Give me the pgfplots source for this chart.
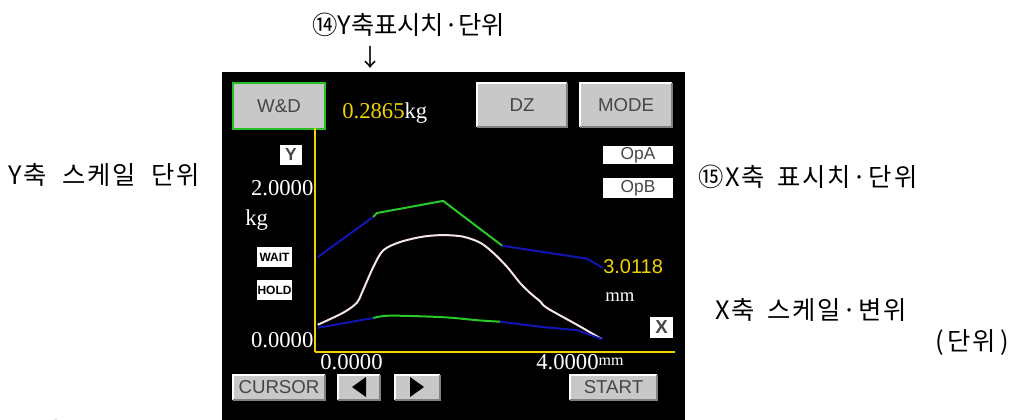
\documentclass[border=0pt]{standalone}
\usepackage{pgfplots}
\pgfplotsset{compat=1.18}
\usepackage{fontspec}
\setmainfont{Liberation Sans}
\newfontfamily\kr[LetterSpace=7]{Noto Sans CJK KR}
\newfontfamily\krn{Noto Sans CJK KR}
\newfontfamily\ser{Liberation Serif}
\definecolor{btn}{RGB}{200,200,200}
\definecolor{btntxt}{RGB}{70,70,70}
\definecolor{ylw}{RGB}{240,210,0}
\definecolor{dblue}{RGB}{20,20,180}
\definecolor{lgreen}{RGB}{40,200,40}
\definecolor{wht}{RGB}{245,228,235}
\definecolor{bgreen}{RGB}{40,190,40}
\newcommand\btn[5]{%
  \fill[btn] (#1,#2) rectangle (#3,#4);
  \draw[white,line width=1.2pt] (#1,#4) -- (#1,#2) -- (#3,#2);
  \draw[gray,line width=1.2pt] (#3,#2) -- (#3,#4) -- (#1,#4);
  \node[text=btntxt,font=\fontsize{14}{14}\selectfont] at ({(#1+#3)/2},{(#2+#4)/2}) {#5};}
\newcommand\wbox[6]{%
  \fill[white] (#1,#2) rectangle (#3,#4);
  \node[text=#6,inner sep=0pt] at ({(#1+#3)/2},{(#2+#4)/2}) {#5};}
\begin{document}
\begin{tikzpicture}
\begin{scope}[x=0.75pt,y=-0.75pt]
\useasboundingbox (0,0) rectangle (1021,420);
\fill[white] (0,0) rectangle (1021,420);
\fill[black] (222,72) rectangle (685,420);
% buttons
\fill[btn] (233,83) rectangle (325,129);
\draw[bgreen,line width=1.5pt] (233,83) rectangle (325,129);
\node[text=btntxt,font=\fontsize{14}{14}\selectfont] at (279,106) {W\&D};
\btn{477}{83}{567}{127}{DZ}
\btn{580}{83}{672}{127}{MODE}
\btn{233}{375}{325}{400}{CURSOR}
\btn{338}{375}{380}{400}{}
\btn{395}{375}{440}{400}{}
\btn{570}{375}{657}{400}{START}
\fill[black] (352,387) -- (366,377) -- (366,397) -- cycle;
\fill[black] (424,387) -- (410,377) -- (410,397) -- cycle;
% small boxes
\wbox{280}{145}{302}{165}{\bfseries\fontsize{13}{13}\selectfont Y}{btntxt}
\wbox{650}{317}{673}{338}{\bfseries\fontsize{14}{14}\selectfont X}{btntxt}
\wbox{603}{146}{673}{164}{\fontsize{13}{13}\selectfont OpA}{btntxt}
\wbox{603}{178}{673}{198}{\fontsize{13}{13}\selectfont OpB}{btntxt}
\wbox{257}{247}{292}{267}{\bfseries\fontsize{9}{9}\selectfont WAIT}{black}
\wbox{257}{280}{292}{300}{\bfseries\fontsize{9}{9}\selectfont HOLD}{black}
% panel texts
\node[anchor=west,inner sep=0pt,font=\ser\fontsize{17}{17}\selectfont] at (342,113) {\textcolor{ylw}{0.2865}\textcolor{white}{kg}};
\node[anchor=west,inner sep=0pt,text=white,font=\ser\fontsize{17}{17}\selectfont] at (245,220) {kg};
\node[anchor=west,inner sep=0pt,text=ylw,font=\fontsize{15}{15}\selectfont] at (603,267) {3.0118};
\node[anchor=west,inner sep=0pt,text=white,font=\ser\fontsize{14}{14}\selectfont] at (605,297) {mm};
\node[anchor=west,inner sep=0pt,text=white,font=\ser\fontsize{17}{17}\selectfont] at (320,362) {0.0000};
\node[anchor=west,inner sep=0pt,text=white,font=\ser\fontsize{17}{17}\selectfont] at (536,362) {4.0000\raisebox{3pt}{\fontsize{12}{12}\selectfont mm}};
% annotations
\node[anchor=west,inner sep=0pt,font=\krn\fontsize{19}{19}\selectfont] at (312,25) {⑭Y축표시치·단위};
\node[inner sep=0pt,font=\krn\fontsize{18}{18}\selectfont] at (370,57) {↓};
\node[anchor=west,inner sep=0pt,font=\kr\fontsize{19}{19}\selectfont] at (8,175) {Y축\hspace{6pt} 스케일\hspace{6pt} 단위};
\node[anchor=west,inner sep=0pt,font=\kr\fontsize{19}{19}\selectfont] at (698,177) {⑮X축\hspace{4pt} 표시치·단위};
\node[anchor=west,inner sep=0pt,font=\kr\fontsize{19}{19}\selectfont] at (715,310) {X축\hspace{4pt} 스케일·변위};
\node[anchor=west,inner sep=0pt,font=\kr\fontsize{19}{19}\selectfont] at (935,343) {(\hspace{3pt}단위\hspace{3pt})};
\node[anchor=west,inner sep=0pt,font=\kr\fontsize{19}{19}\selectfont] at (23,432) {파형 표시};
\end{scope}
\begin{axis}[at={(236.25pt,-264pt)}, anchor=south west, scale only axis,
  width=270pt, height=168pt,
  xmin=-0.028, xmax=5.025, ymin=-0.158, ymax=2.789,
  axis x line=bottom, axis y line=left,
  axis line style={-,ylw,line width=1.5pt},
  xtick=\empty, ytick={0,2}, yticklabels={0.0000,2.0000},
  major tick length=0pt,
  yticklabel style={text=white,font=\ser\fontsize{17}{17}\selectfont,inner sep=1pt},
  clip=false]
\addplot[dblue, line width=1.5pt] coordinates {(0.01,1.09)(0.79,1.62)};
\addplot[lgreen, line width=1.5pt] coordinates {(0.79,1.62)(0.84,1.67)(1.77,1.83)(2.60,1.24)};
\addplot[dblue, line width=1.5pt] coordinates {(2.60,1.24)(3.79,1.07)(4.01,0.95)};
\addplot[wht, line width=1.5pt, smooth] coordinates {
(0.01,0.20)(0.37,0.36)(0.56,0.49)(0.63,0.62)(0.79,0.96)(0.93,1.18)(1.17,1.29)(1.49,1.36)(1.77,1.38)(2.05,1.36)(2.29,1.28)(2.47,1.15)(2.67,0.96)(2.85,0.75)(2.99,0.62)(3.13,0.51)(3.23,0.42)(3.65,0.20)(4.00,0.01)};
\addplot[dblue, line width=1.5pt] coordinates {(0.01,0.16)(0.79,0.29)};
\addplot[lgreen, line width=1.5pt, smooth] coordinates {(0.79,0.29)(1.03,0.32)(1.77,0.30)(2.25,0.26)(2.57,0.24)};
\addplot[dblue, line width=1.5pt] coordinates {(2.57,0.24)(3.17,0.17)(3.65,0.13)(4.00,0.01)};
\end{axis}
\end{tikzpicture}
\end{document}
